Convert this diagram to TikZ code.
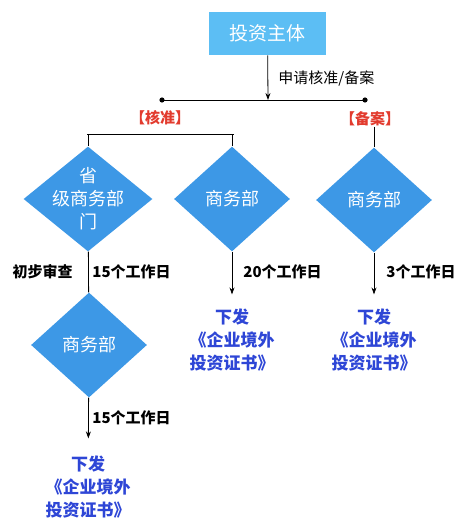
\documentclass[tikz,border=0pt]{standalone}
\usepackage{fontspec}
\newfontfamily\cjk{Noto Sans CJK SC}
\usetikzlibrary{arrows.meta,shapes.geometric}

\definecolor{boxblue}{HTML}{5CBEF4}
\definecolor{diablue}{HTML}{3D98E6}
\definecolor{txtblue}{HTML}{2E46D6}
\definecolor{txtred}{HTML}{E23B2E}

\begin{document}
\begin{tikzpicture}[
						x=1pt, y=-1pt,
						every node/.style={font=\cjk, inner sep=0pt},
						line width=0.8pt,
						topbox/.style={rectangle, fill=boxblue, text=white, minimum width=117pt, minimum height=43pt, font=\cjk\fontsize{19}{23}\selectfont},
						stepdia/.style={diamond, fill=diablue, text=white, minimum width=116pt, minimum height=105pt, font=\cjk\fontsize{18}{23}\selectfont, align=center},
						tag/.style={text=txtred, font=\cjk\bfseries\fontsize{15}{18}\selectfont},
						daylbl/.style={font=\cjk\bfseries\fontsize{15}{18}\selectfont},
						result/.style={text=txtblue, font=\cjk\bfseries\fontsize{17}{23}\selectfont, align=center, inner ysep=14pt},
						flow/.style={-{Stealth[length=7pt,width=5pt]}}
						]
						\useasboundingbox (0,0) rectangle (474,527);
						
						% Applicant and split
						\node[topbox] (investor) at (267.5,33.5) {投资主体};
						\coordinate (split) at (268,100);
						\coordinate (hl) at (162,100);
						\coordinate (hr) at (365,100);
						\draw[flow] (investor) -- (split);
						\draw (hl) -- (hr);
						\fill (hl) circle (2.6);
						\fill (hr) circle (2.6);
						\node[anchor=west, font=\cjk\fontsize{15}{18}\selectfont] (apply) at (278,78) {申请核准/备案};
						
						% Two routes
						\node[tag] (approve) at (160,118) {【核准】};
						\node[tag] (record) at (370,119) {【备案】};
						
						% Diamonds
						\node[stepdia, minimum width=129pt] (prov) at (88,199) {};
						\node[align=center, text=white, font=\cjk\fontsize{18}{23}\selectfont] (provtxt) at (prov) {省\\级商务部\\门};
						\node[stepdia] (mofc1) at (232,199) {商务部};
						\node[stepdia] (mofc2) at (374,200) {商务部};
						\node[stepdia] (mofc3) at (89,345) {商务部};
						
						% Branch lines
						\coordinate (bl) at (87,134);
						\coordinate (br) at (234,134);
						\draw (bl) -- (br);
						\draw (prov.north |- bl) -- (prov.north);
						\draw (mofc1.north |- bl) -- (mofc1.north);
						\draw (mofc2.north |- record.south) -- (mofc2.north);
						
						% Results
						\node[result] (res1) at (232,340) {下发\\《企业境外\\投资证书》};
						\node[result] (res2) at (374,340) {下发\\《企业境外\\投资证书》};
						\node[result] (res3) at (88,487) {下发\\《企业境外\\投资证书》};
						
						\draw (prov) -- (mofc3);
						\draw[flow] (mofc1) -- (res1);
						\draw[flow] (mofc2) -- (res2);
						\draw[flow, shorten >=3pt] (mofc3) -- (res3);
						
						% Time labels
						\node[daylbl, anchor=east] (check) at (73,272) {初步审查};
						\node[daylbl, anchor=west] (days1) at (92,272) {15个工作日};
						\node[daylbl, anchor=west] (days2) at (243,272) {20个工作日};
						\node[daylbl, anchor=west] (days3) at (386,272) {3个工作日};
						\node[daylbl, anchor=west] (days4) at (92,418) {15个工作日};
						
					\end{tikzpicture}
\end{document}
